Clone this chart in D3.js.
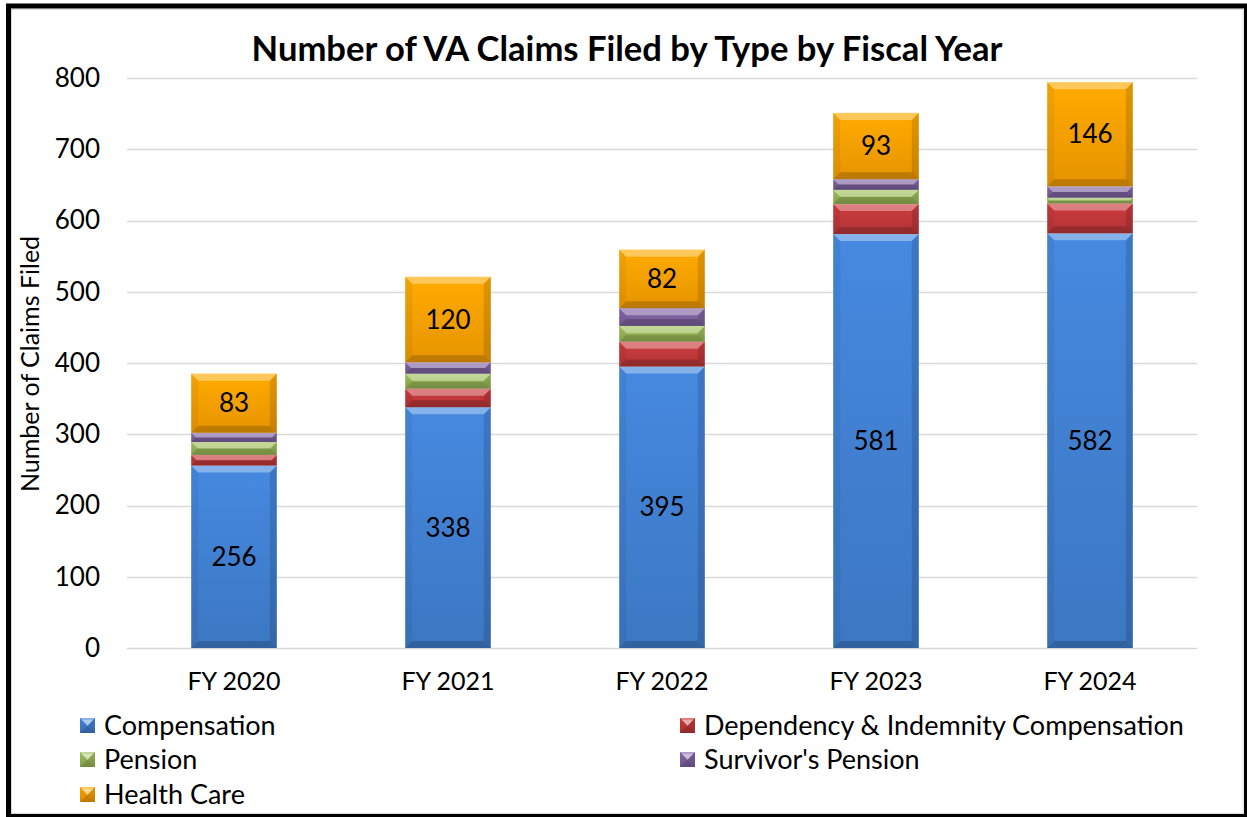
<!DOCTYPE html>
<html>
<head>
<meta charset="utf-8">
<script src="https://cdn.jsdelivr.net/npm/d3@7"></script>
<style>
  html, body { margin: 0; padding: 0; background: #fff; }
  svg { display: block; font-family: Lato, 'Open Sans', sans-serif; }
</style>
</head>
<body>
<svg id="chart" width="1247" height="817"></svg>
<script>
const years = ['FY 2020', 'FY 2021', 'FY 2022', 'FY 2023', 'FY 2024'];
const compensation = [256, 338, 395, 581, 582];
const dependency = [15, 26, 35, 42, 42];
const pension = [18, 21, 22, 20, 8];
const survivors = [13, 16, 25, 15, 16];
const healthCare = [83, 120, 82, 93, 146];
const yTicks = [0, 100, 200, 300, 400, 500, 600, 700, 800];

const seriesKeys = ['comp', 'dic', 'pen', 'surv', 'hc'];
const seriesNames = ['Compensation', 'Dependency & Indemnity Compensation', 'Pension', "Survivor's Pension", 'Health Care'];
const seriesColors = ['#4282d4', '#c3393b', '#9bbb59', '#8064a2', '#fba200'];
const labelled = { comp: true, hc: true };

const W = 1247, H = 817;
const svg = d3.select('#chart');

// table for d3.stack
const table = years.map((yr, i) => ({
  year: yr, comp: compensation[i], dic: dependency[i], pen: pension[i], surv: survivors[i], hc: healthCare[i]
}));
const stacked = d3.stack().keys(seriesKeys)(table);

const x = d3.scaleBand().domain(years).range([127, 1197]).paddingInner(0.6).paddingOuter(0.3);
const y = d3.scaleLinear().domain([0, 800]).range([648, 78]);

// gradients
const defs = svg.append('defs');
seriesColors.forEach((c, i) => {
  const g = defs.append('linearGradient').attr('id', 'grad' + i).attr('x1', 0).attr('y1', 0).attr('x2', 0).attr('y2', 1);
  g.append('stop').attr('offset', '0%').attr('stop-color', d3.color(c).brighter(0.15));
  g.append('stop').attr('offset', '100%').attr('stop-color', d3.color(c).darker(0.25));
});

// gridlines
svg.append('g').selectAll('line').data(yTicks).join('line')
  .attr('x1', 127).attr('x2', 1197)
  .attr('y1', d => Math.round(y(d)) + 0.5).attr('y2', d => Math.round(y(d)) + 0.5)
  .attr('stroke', '#d9d9d9').attr('stroke-width', 1.5);

// y axis ticks
const yAxis = svg.append('g').attr('transform', 'translate(100,0)')
  .call(d3.axisLeft(y).tickValues(yTicks).tickSize(0).tickPadding(0));
yAxis.select('.domain').remove();
yAxis.selectAll('text').attr('font-size', 26).attr('fill', '#000').attr('font-family', 'Lato, sans-serif');

// x axis labels
const xAxis = svg.append('g').attr('transform', 'translate(0,648)')
  .call(d3.axisBottom(x).tickSize(0).tickPadding(24));
xAxis.select('.domain').remove();
xAxis.selectAll('text').attr('font-size', 25).attr('fill', '#000').attr('font-family', 'Lato, sans-serif');

// bevelled segment
function bevel(g, x0, y0, w, h, ci) {
  const d = Math.min(7, h / 2, w / 2);
  g.append('rect').attr('x', x0).attr('y', y0).attr('width', w).attr('height', h)
    .attr('fill', `url(#grad${ci})`);
  const x1 = x0 + w, y1 = y0 + h;
  const poly = (pts, fill) => g.append('polygon')
    .attr('points', pts.map(p => p.join(',')).join(' ')).attr('fill', fill);
  poly([[x0, y0], [x1, y0], [x1 - d, y0 + d], [x0 + d, y0 + d]], 'rgba(255,255,255,0.35)');
  poly([[x0, y1], [x1, y1], [x1 - d, y1 - d], [x0 + d, y1 - d]], 'rgba(0,0,0,0.18)');
  poly([[x0, y0], [x0 + d, y0 + d], [x0 + d, y1 - d], [x0, y1]], 'rgba(0,0,0,0.05)');
  poly([[x1, y0], [x1 - d, y0 + d], [x1 - d, y1 - d], [x1, y1]], 'rgba(0,0,0,0.13)');
}

const bars = svg.append('g');
stacked.forEach((layer, li) => {
  layer.forEach(seg => {
    const g = bars.append('g');
    const top = y(seg[1]), bot = y(seg[0]);
    bevel(g, x(seg.data.year), top, x.bandwidth(), bot - top, li);
  });
});

// data labels
const labels = svg.append('g').attr('font-size', 26).attr('fill', '#000').attr('text-anchor', 'middle');
stacked.forEach(layer => {
  if (!labelled[layer.key]) return;
  labels.selectAll(null).data(layer).join('text')
    .attr('x', d => x(d.data.year) + x.bandwidth() / 2)
    .attr('y', d => (y(d[0]) + y(d[1])) / 2)
    .attr('dy', '0.35em')
    .text(d => d[1] - d[0]);
});

// y axis title
svg.append('text')
  .attr('transform', 'translate(39,364) rotate(-90)')
  .attr('text-anchor', 'middle').attr('font-size', 25)
  .text('Number of Claims Filed');

// title
const title = svg.append('text')
  .attr('x', 627).attr('y', 61).attr('text-anchor', 'middle')
  .attr('font-size', 30).attr('font-weight', 'bold')
  .text('Number of VA Claims Filed by Type by Fiscal Year');
const tw = title.node().getComputedTextLength();
title.attr('font-size', 30 * 751 / tw);

// legend
const legendPos = [[80, 726], [680, 726], [80, 760], [680, 760], [80, 795]];
const legend = svg.append('g');
seriesNames.forEach((name, i) => {
  const [lx, ly] = legendPos[i];
  const g = legend.append('g');
  bevel(g, lx, ly - 8, 15, 15, i);
  g.append('polygon')
    .attr('points', `${lx + 2},${ly - 6} ${lx + 13},${ly - 6} ${lx + 7.5},${ly}`)
    .attr('fill', 'rgba(255,255,255,0.35)');
  g.append('text').attr('x', lx + 24).attr('y', ly).attr('dy', '0.35em')
    .attr('font-size', 27).text(name);
});

// outer frame
svg.append('rect').attr('x', 11.5).attr('y', 9.5).attr('width', 1231.5).attr('height', 804)
  .attr('fill', 'none').attr('stroke', '#d9d9d9').attr('stroke-width', 1);
svg.append('rect').attr('x', 8.5).attr('y', 6).attr('width', 1238).attr('height', 810.5)
  .attr('fill', 'none').attr('stroke', '#000').attr('stroke-width', 5);
</script>
</body>
</html>
